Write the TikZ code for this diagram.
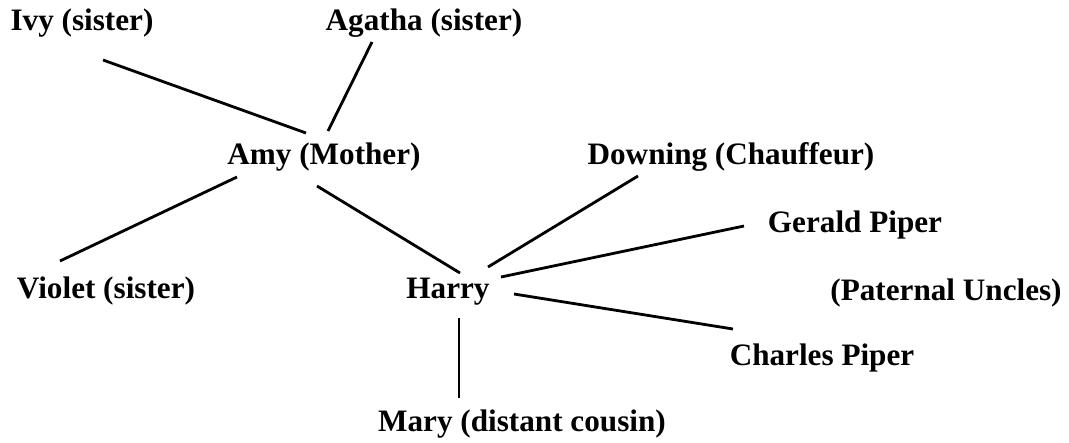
\documentclass[tikz,border=0pt]{standalone}
\usepackage{fontspec}
\setmainfont{Liberation Serif}
\begin{document}
\begin{tikzpicture}[x=0.02cm,y=-0.02cm,line width=1.6pt,
	who/.style={font=\bfseries\fontsize{17.75}{20}\selectfont, inner sep=0pt, anchor=base}]
	\useasboundingbox (0,0) rectangle (1069,443);
	% people
	\node (Ivy)      at (82, 30)   [who]	{Ivy (sister)};
	\node (Agatha)   at (424, 30)  [who]	{Agatha (sister)};
	\node (Amy)      at (324, 164) [who]	{Amy (Mother)};
	\node (Downing)  at (731, 164) [who]	{Downing (Chauffeur)};
	\node (Gerald)   at (855, 232) [who]	{Gerald Piper};
	\node (Violet)   at (106, 298) [who]	{Violet (sister)};
	\node (Harry)    at (448, 298) [who]	{Harry};
	\node (Uncles)   at (946, 300) [who]	{(Paternal Uncles)};
	\node (Charles)  at (822, 365) [who]	{Charles Piper};
	\node (Mary)     at (522, 431) [who]	{Mary (distant cousin)};
	% line ends
	\coordinate (Ivy-e)     at (103, 60);
	\coordinate (Agatha-e)  at (372, 42);
	\coordinate (Amy-nw)    at (306, 133);
	\coordinate (Amy-ne)    at (328, 131);
	\coordinate (Amy-sw)    at (237, 177);
	\coordinate (Amy-se)    at (317, 186);
	\coordinate (Violet-e)  at (60, 261);
	\coordinate (Downing-e) at (638, 176);
	\coordinate (Gerald-e)  at (744, 226);
	\coordinate (Charles-e) at (733, 329);
	\coordinate (Mary-e)    at (459, 398);
	\coordinate (Harry-nw)  at (460, 273);
	\coordinate (Harry-n)   at (488, 267);
	\coordinate (Harry-ne)  at (501, 277);
	\coordinate (Harry-e)   at (514, 294);
	\coordinate (Harry-s)   at (459, 318);
	\draw (Ivy-e) -- (Amy-nw);
	\draw (Agatha-e) -- (Amy-ne);
	\draw (Amy-sw) -- (Violet-e);
	\draw (Amy-se) -- (Harry-nw);
	\draw (Downing-e) -- (Harry-n);
	\draw (Gerald-e) -- (Harry-ne);
	\draw (Harry-e) -- (Charles-e);
	\draw (Harry-s) -- (Mary-e);
\end{tikzpicture}
\end{document}
